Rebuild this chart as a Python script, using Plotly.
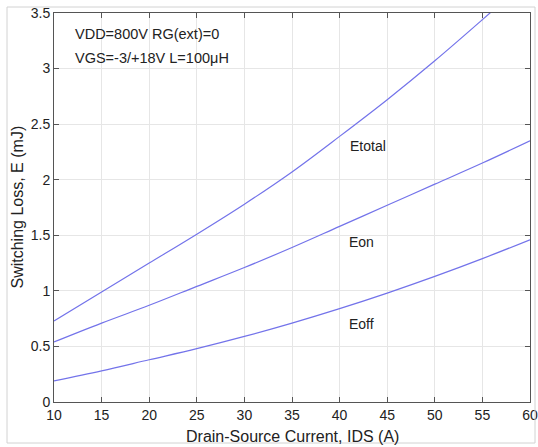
import plotly.graph_objects as go

ids = [10, 15, 20, 25, 30, 35, 40, 45, 50, 55, 60]
e_total = [0.73, 0.99, 1.25, 1.51, 1.78, 2.07, 2.39, 2.72, 3.07, 3.44, 3.82]
e_on = [0.54, 0.71, 0.87, 1.04, 1.21, 1.39, 1.58, 1.77, 1.96, 2.15, 2.35]
e_off = [0.19, 0.28, 0.38, 0.48, 0.59, 0.71, 0.84, 0.98, 1.13, 1.29, 1.46]

x_ticks = [10, 15, 20, 25, 30, 35, 40, 45, 50, 55, 60]
y_ticks = [0, 0.5, 1, 1.5, 2, 2.5, 3, 3.5]
y_tick_text = ["0", "0.5", "1", "1.5", "2", "2.5", "3", "3.5"]

curve_labels = ["Etotal", "Eon", "Eoff"]
label_x = [43.0, 42.3, 42.3]
label_y = [2.30, 1.44, 0.70]

note_lines = ["VDD=800V RG(ext)=0", "VGS=-3/+18V L=100μH"]
x_title = "Drain-Source Current, IDS (A)"
y_title = "Switching Loss, E (mJ)"

line_color = "#7373ea"
text_color = "#222222"
font_family = "Liberation Sans, Arial, sans-serif"

fig = go.Figure()
for ys, name in zip([e_total, e_on, e_off], curve_labels):
    fig.add_trace(go.Scatter(x=ids, y=ys, mode="lines", name=name, hoverinfo="skip",
                             line=dict(color=line_color, width=1.2, shape="spline", smoothing=1.0)))

for t, xx, yy in zip(curve_labels, label_x, label_y):
    fig.add_annotation(x=xx, y=yy, text=t, showarrow=False,
                       font=dict(size=14, color=text_color, family=font_family))

fig.add_annotation(x=0.04, y=0.945, xref="paper", yref="paper", xanchor="left", yanchor="middle",
                   text=note_lines[0], showarrow=False,
                   font=dict(size=14.5, color=text_color, family=font_family))
fig.add_annotation(x=0.04, y=0.885, xref="paper", yref="paper", xanchor="left", yanchor="middle",
                   text=note_lines[1], showarrow=False,
                   font=dict(size=14.5, color=text_color, family=font_family))

# axis titles
fig.add_annotation(x=0.5, y=0, xref="paper", yref="paper", yshift=-34,
                   xanchor="center", yanchor="middle", text=x_title, showarrow=False,
                   font=dict(size=16, color=text_color, family=font_family))
fig.add_annotation(x=0, y=0.5, xref="paper", yref="paper", xshift=-37,
                   xanchor="center", yanchor="middle", textangle=-90, text=y_title, showarrow=False,
                   font=dict(size=16, color=text_color, family=font_family))

# faint outer frame
fig.add_shape(type="rect", xref="paper", yref="paper",
              x0=-47/476, x1=1 + 5/476, y0=-41/389, y1=1 + 6/389,
              line=dict(color="#d2d2d2", width=1), layer="above")

axis_common = dict(
    showline=True, linecolor="#555555", linewidth=1, mirror="ticks",
    ticks="inside", ticklen=5, tickcolor="#555555",
    showgrid=True, gridcolor="#e6e6e6", gridwidth=1, zeroline=False,
    automargin=False,
    tickfont=dict(size=14, color=text_color, family=font_family),
)

fig.update_xaxes(range=[10, 60], tickvals=x_ticks, **axis_common)
fig.update_yaxes(range=[0, 3.5], tickvals=y_ticks, ticktext=y_tick_text, **axis_common)

fig.update_layout(width=538, height=447, showlegend=False, hovermode=False,
                  margin=dict(l=54, r=8, t=13, b=45),
                  paper_bgcolor="white", plot_bgcolor="white")

fig.write_html("out.html", config={"displayModeBar": False, "staticPlot": True},
               post_script="document.body.style.margin='0';document.body.style.overflow='hidden';")
